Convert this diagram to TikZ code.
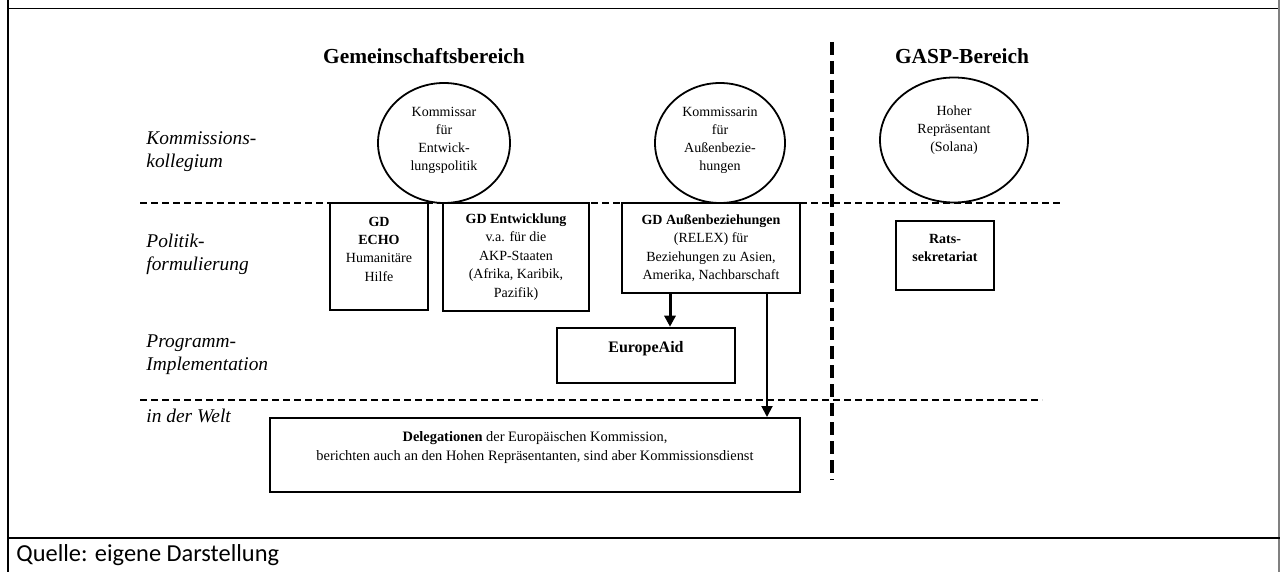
\documentclass[tikz,border=0pt]{standalone}
\usepackage{fontspec}
\setmainfont{Liberation Serif}
\newfontfamily\capfont{Carlito}
\usetikzlibrary{shapes.geometric,arrows.meta}
\begin{document}
\begin{tikzpicture}[x=0.5pt,y=-0.5pt,
  lvl/.style={dash pattern=on 3.5pt off 2pt, line width=0.8pt},
  divider/.style={dash pattern=on 6.5pt off 3pt, line width=2pt},
  head/.style={font=\bfseries\fontsize{10.7}{12}\selectfont, inner sep=0pt},
  rowlab/.style={font=\itshape\fontsize{9.7}{11.5}\selectfont, align=left, anchor=west, inner sep=0pt},
  person/.style={ellipse, draw, line width=0.9pt, inner sep=0pt, align=center, font=\fontsize{7}{9}\selectfont},
  unit/.style={rectangle, draw, line width=1.25pt, inner sep=0pt, align=center, font=\fontsize{7}{9.2}\selectfont},
  arr/.style={-{Triangle[length=5.5pt,width=5.5pt]}},
]
\useasboundingbox (0,0) rectangle (1280,572);

% frame
\draw[line width=0.75pt] (8,8.5) -- (1280,8.5);
\draw[line width=0.75pt] (8,0) -- (8,572);
\draw[line width=0.75pt, gray] (1279,0) -- (1279,572);
\draw[line width=1.25pt] (8,538) -- (1280,538);
\node[font=\capfont\fontsize{12.2}{14}\selectfont, anchor=base west, inner sep=0pt] (src) at (16,561) {Quelle: eigene Darstellung};

% level separators
\draw[lvl] (140,203) -- (1060,203);
\draw[lvl] (140,400) -- (1042,400);
\draw[divider] (832,42) -- (832,480);

% headings
\node[head] (gem) at (424,56) {Gemeinschaftsbereich};
\node[head] (gasp) at (962,56) {GASP-Bereich};

% row labels
\node[rowlab] (l1) at (146,152) {Kommissions-\\kollegium};
\node[rowlab] (l2) at (146,254.5) {Politik-\\formulierung};
\node[rowlab] (l3) at (146,355) {Programm-\\Implementation};
\node[rowlab] (l4) at (146,415.5) {in der Welt};

% persons
\node[person, minimum width=66pt, minimum height=60pt, text depth=4.5pt] (kom1) at (444,143) {Kommissar\\für\\Entwick-\\lungspolitik};
\node[person, minimum width=65pt, minimum height=60pt, text depth=4.5pt] (kom2) at (720,143) {Kommissarin\\für\\Außenbezie-\\hungen};
\node[person, minimum width=74pt, minimum height=62.5pt, text depth=11pt] (hr) at (954,140) {Hoher\\Repräsentant\\(Solana)};

% units
\node[unit, minimum width=49pt, minimum height=53.5pt, text depth=7.5pt] (echo) at (379,256.5) {\textbf{GD}\\\textbf{ECHO}\\Humanitäre\\Hilfe};
\node[unit, minimum width=73pt, minimum height=54pt] (entw) at (516,257) {\textbf{GD Entwicklung}\\v.a. für die\\AKP-Staaten\\(Afrika, Karibik,\\Pazifik)};
\node[unit, minimum width=89pt, minimum height=45pt] (aussen) at (711,248) {\textbf{GD Außenbeziehungen}\\(RELEX) für\\Beziehungen zu Asien,\\Amerika, Nachbarschaft};
\node[unit, line width=1pt, minimum width=49pt, minimum height=34.5pt, text depth=7.5pt] (rats) at (945,255.5) {\textbf{Rats-}\\\textbf{sekretariat}};
\node[unit, minimum width=89pt, minimum height=27.5pt, text depth=9pt, font=\bfseries\fontsize{8}{9.5}\selectfont] (eaid) at (646,355.5) {EuropeAid};
\node[unit, line width=1pt, minimum width=265pt, minimum height=37pt, text depth=9pt, font=\fontsize{7.2}{9.5}\selectfont] (deleg) at (535,455) {\textbf{Delegationen} der Europäischen Kommission,\\berichten auch an den Hohen Repräsentanten, sind aber Kommissionsdienst};

% connectors
\coordinate (ea) at (670,0);
\coordinate (dl) at (767,0);
\draw[arr, line width=1.5pt] (aussen.south -| ea) -- (eaid.north -| ea);
\draw[arr, line width=1pt] (aussen.south -| dl) -- (deleg.north -| dl);
\end{tikzpicture}
\end{document}
